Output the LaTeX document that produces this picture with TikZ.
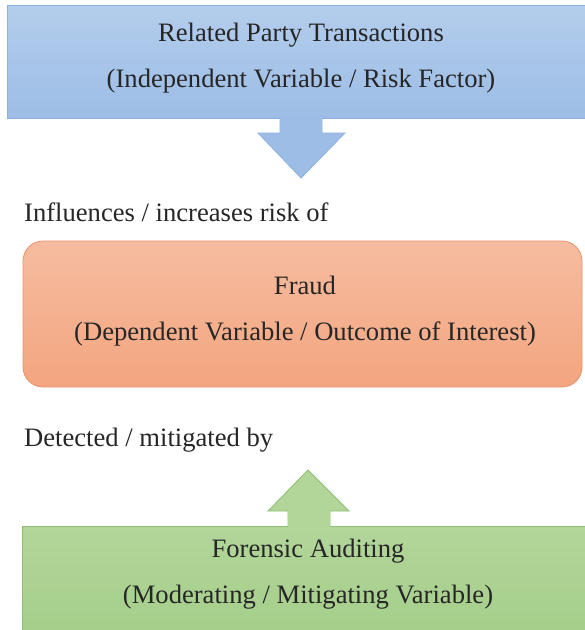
\documentclass[tikz,border=0pt]{standalone}
\usepackage{fontspec}
\setmainfont{Liberation Serif}
\definecolor{bluetop}{HTML}{B3CDEC}
\definecolor{bluebot}{HTML}{9DBDE6}
\definecolor{blueline}{HTML}{8DB1DE}
\definecolor{orangetop}{HTML}{F6BCA0}
\definecolor{orangebot}{HTML}{F3A57F}
\definecolor{orangeline}{HTML}{E5936D}
\definecolor{greentop}{HTML}{B2D69A}
\definecolor{greenbot}{HTML}{A3CD88}
\definecolor{greenline}{HTML}{8FBD73}
\tikzset{
  txt/.style={font=\rmfamily\fontsize{26.6}{46}\selectfont, align=center, text=black!85},
  lbl/.style={font=\rmfamily\fontsize{26.6}{30}\selectfont, anchor=west, text=black!85, inner sep=0pt},
}
\begin{document}
\begin{tikzpicture}[x=1pt,y=-1pt]
\useasboundingbox (0,0) rectangle (585,630);
\clip (0,0) rectangle (585,630);
% Blue box
\path[top color=bluetop, bottom color=bluebot, draw=blueline, line width=0.8pt]
  (7,5) rectangle (600,118);
\node[txt] (rpt) at (301,58) {Related Party Transactions\\(Independent Variable / Risk Factor)};
% Down arrow
\coordinate (dtip) at (301,178);
\path[fill=bluebot, draw=blueline, line width=0.8pt]
  (280,117.6) -- (280,133) -- (258,133) -- (dtip) -- (345,133) -- (322,133) -- (322,117.6);
\path[fill=bluebot] (280.4,116) rectangle (321.6,134);
% Label 1
\node[lbl] (l1) at (24,212) {Influences / increases risk of};
% Fraud box
\path[top color=orangetop, bottom color=orangebot, draw=orangeline, line width=0.8pt, rounded corners=20pt]
  (23,241) rectangle (582,387);
\node[txt] (fraud) at (305,311) {Fraud\\(Dependent Variable / Outcome of Interest)};
% Label 2
\node[lbl] (l2) at (24,440) {Detected / mitigated by};
% Green box
\path[top color=greentop, bottom color=greenbot, draw=greenline, line width=0.8pt]
  (22,526) rectangle (600,650);
\node[txt] (fa) at (308,574) {Forensic Auditing\\(Moderating / Mitigating Variable)};
% Up arrow
\coordinate (utip) at (308,470);
\path[fill=greentop, draw=greenline, line width=0.8pt]
  (288,526.4) -- (288,511) -- (268,511) -- (utip) -- (349,511) -- (330,511) -- (330,526.4);
\path[fill=greentop] (288.4,510) rectangle (329.6,528);
\end{tikzpicture}
\end{document}
